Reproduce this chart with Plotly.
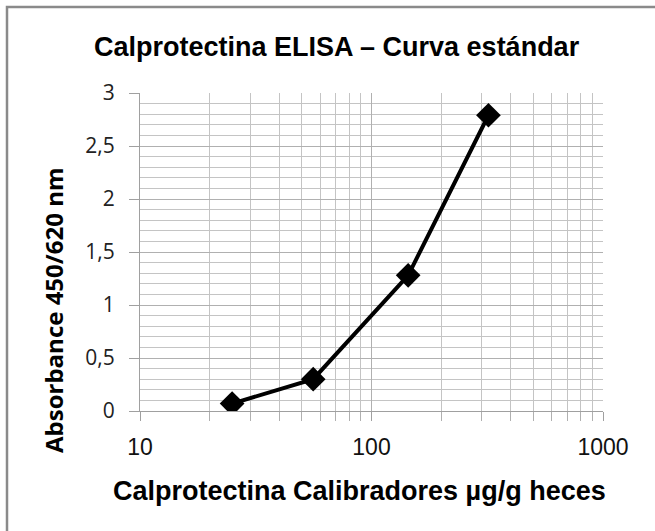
import plotly.graph_objects as go

concentration = [25, 56, 144, 320]
absorbance = [0.07, 0.30, 1.28, 2.79]
y_tick_vals = [0, 0.5, 1, 1.5, 2, 2.5, 3]
y_tick_text = ["0", "0,5", "1", "1,5", "2", "2,5", "3"]
x_tick_vals = [10, 100, 1000]
x_tick_text = ["10", "100", "1000"]

W, H = 655, 531
L, R, T, B = 140, 52, 93, 120
pw, ph = W - L - R, H - T - B


def px(xp):
    return (xp - L) / pw


def py(yp):
    return 1 - (yp - T) / ph


fig = go.Figure()
fig.add_trace(go.Scatter(
    x=concentration, y=absorbance, mode="lines+markers",
    line=dict(color="black", width=4),
    marker=dict(symbol="diamond", size=19, color="black"),
    showlegend=False, hoverinfo="skip",
))

grid = "#c4c4c4"
fig.update_layout(
    width=W, height=H,
    margin=dict(l=L, r=R, t=T, b=B),
    paper_bgcolor="white", plot_bgcolor="white",
    xaxis=dict(
        type="log", range=[1, 3],
        tickvals=x_tick_vals, ticktext=x_tick_text,
        ticks="outside", ticklen=9, tickcolor="#a0a0a0",
        showgrid=True, gridcolor="#b0b0b0", gridwidth=1,
        showline=True, linecolor="#a0a0a0", linewidth=1,
        tickfont=dict(family="Liberation Sans, Arial", size=23, color="#111"),
        ticklabelstandoff=6,
        minor=dict(dtick="D1", ticks="outside", ticklen=9, tickcolor="#b0b0b0",
                   showgrid=True, gridcolor=grid, gridwidth=1),
        zeroline=False, fixedrange=True,
    ),
    yaxis=dict(
        range=[0, 3], tickvals=y_tick_vals, ticktext=y_tick_text,
        ticks="outside", ticklen=10, tickcolor="#a0a0a0",
        showgrid=True, gridcolor="#b0b0b0", gridwidth=1,
        showline=True, linecolor="#a0a0a0", linewidth=1,
        tickfont=dict(family="Open Sans, Lato", size=21, color="#222"),
        ticklabelstandoff=10,
        minor=dict(dtick=0.1, showgrid=True, gridcolor=grid, gridwidth=1),
        zeroline=False, fixedrange=True,
    ),
)

fig.add_annotation(
    text="<b>Calprotectina ELISA – Curva estándar</b>",
    xref="paper", yref="paper", x=px(337), y=py(47),
    xanchor="center", yanchor="middle", showarrow=False,
    font=dict(family="Liberation Sans, Arial", size=27, color="black"),
)

fig.add_annotation(
    text="<b>Calprotectina Calibradores µg/g heces</b>",
    xref="paper", yref="paper", x=px(359), y=py(491),
    xanchor="center", yanchor="middle", showarrow=False,
    font=dict(family="Liberation Sans, Arial", size=27, color="black"),
)

fig.add_annotation(
    text="<b>Absorbance 450/620 nm</b>", textangle=-90,
    xref="paper", yref="paper",
    x=px(53), y=py(311),
    xanchor="center", yanchor="middle", showarrow=False,
    font=dict(family="Open Sans, Lato", size=24, color="black"),
)

fig.add_shape(
    type="rect", xref="paper", yref="paper",
    x0=px(7), x1=px(W + 10),
    y0=py(H + 10), y1=py(7),
    line=dict(color="#8a8a8a", width=2.5), layer="below",
)

fig.write_html("out.html", config={"displayModeBar": False},
               post_script="document.body.style.margin='0px';")
